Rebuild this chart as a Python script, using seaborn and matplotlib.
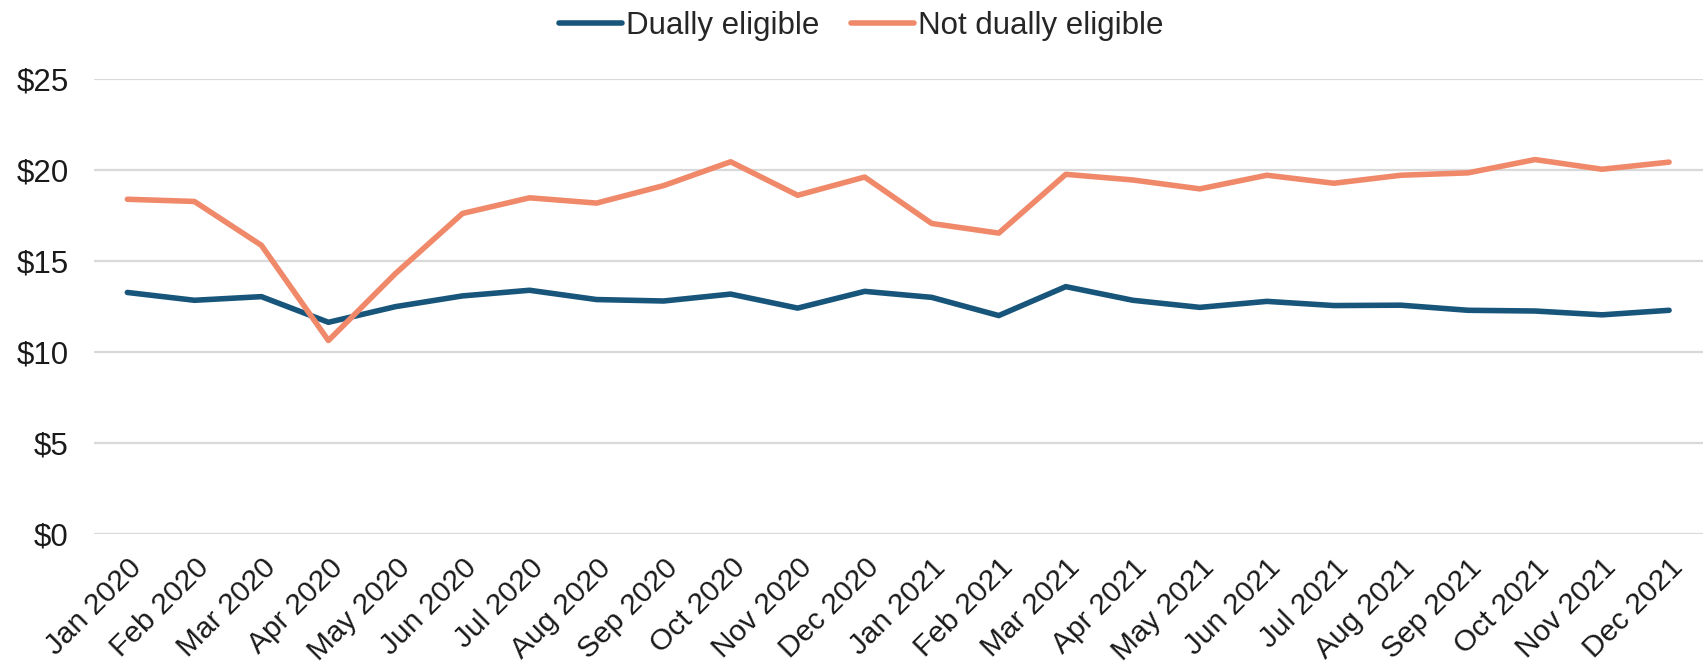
import numpy as np
import pandas as pd
import matplotlib
matplotlib.use("Agg")
import matplotlib.pyplot as plt
import seaborn as sns

# -----------------------------
# Data
# -----------------------------

months = ["Jan 2020", "Feb 2020", "Mar 2020", "Apr 2020", "May 2020", "Jun 2020",
          "Jul 2020", "Aug 2020", "Sep 2020", "Oct 2020", "Nov 2020", "Dec 2020",
          "Jan 2021", "Feb 2021", "Mar 2021", "Apr 2021", "May 2021", "Jun 2021",
          "Jul 2021", "Aug 2021", "Sep 2021", "Oct 2021", "Nov 2021", "Dec 2021"]

dually = [13.27, 12.84, 13.04, 11.63, 12.49, 13.08, 13.39, 12.88, 12.80, 13.18, 12.41, 13.33,
          13.00, 12.00, 13.59, 12.84, 12.45, 12.78, 12.55, 12.57, 12.29, 12.25, 12.04, 12.29]

not_dually = [18.39, 18.27, 15.86, 10.63, 14.31, 17.61, 18.47, 18.18, 19.14, 20.45, 18.61, 19.61,
              17.06, 16.53, 19.76, 19.45, 18.96, 19.71, 19.27, 19.71, 19.84, 20.57, 20.04, 20.43]

series_names = ["Dually eligible", "Not dually eligible"]
colors = ["#17557B", "#F0896A"]
y_ticks = [0, 5, 10, 15, 20, 25]

df = pd.DataFrame({
    "month": months * 2,
    "pos": list(range(len(months))) * 2,
    "value": dually + not_dually,
    "group": [series_names[0]] * len(months) + [series_names[1]] * len(months),
})

# -----------------------------
# Plot
# -----------------------------

sns.set_theme(style="white")
plt.rcParams["font.family"] = ["Liberation Sans", "DejaVu Sans"]

fig = plt.figure(figsize=(17.06, 6.72), dpi=100)
ax = fig.add_axes([0.055, 0.2054, 0.943, 0.6771])

sns.lineplot(
    data=df, x="pos", y="value", hue="group",
    palette=colors, linewidth=4.0, ax=ax, legend=False,
)

ax.set_xlim(-0.5, len(months) - 0.5)
ax.set_ylim(0, 25)
ax.set_yticks(y_ticks)
ax.set_yticklabels([f"${v}" for v in y_ticks], fontsize=22.5, color="#1a1a1a")
ax.set_xticks(range(len(months)))
ax.set_xticklabels(months, rotation=45, ha="right", rotation_mode="anchor",
                   fontsize=21.5, color="#1a1a1a")
ax.tick_params(axis="x", length=0, pad=14)
ax.tick_params(axis="y", length=0, pad=18)
ax.set_xlabel("")
ax.set_ylabel("")

ax.grid(axis="y", color="#D9D9D9", linewidth=1.6)
ax.set_axisbelow(True)
for spine in ax.spines.values():
    spine.set_visible(False)

handles = [plt.Line2D([], [], color=c, linewidth=4.0, solid_capstyle="round") for c in colors]
fig.legend(handles, series_names, loc="center", bbox_to_anchor=(0.505, 0.962),
           ncol=2, frameon=False, fontsize=22.5, handlelength=2.0,
           handletextpad=0.15, columnspacing=1.0)

plt.savefig("out.png", dpi=100)
